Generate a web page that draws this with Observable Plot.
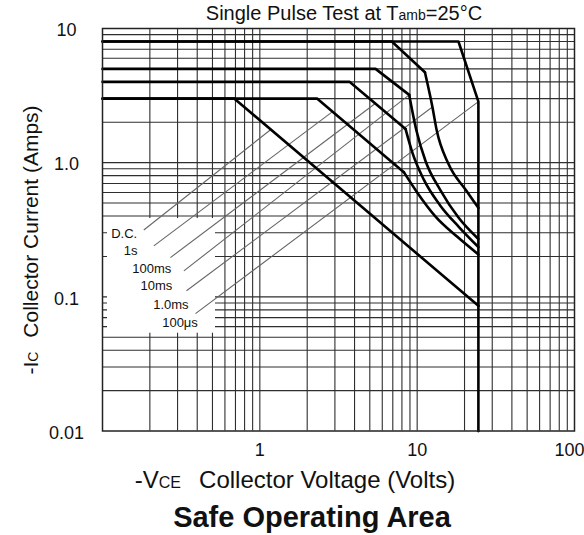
<!DOCTYPE html>
<html><head><meta charset="utf-8">
<script src="https://cdn.jsdelivr.net/npm/d3@7"></script>
<script src="https://cdn.jsdelivr.net/npm/@observablehq/plot@0.6"></script>
<style>body{margin:0;background:#fff;font-family:Arial,"Liberation Sans",sans-serif}</style>
</head><body><div id="chart"></div>
<script>
// grid and ticks
const xGridValues = [0.2,0.3,0.4,0.5,0.6,0.7,0.8,0.9,1,2,3,4,5,6,7,8,9,10,20,30,40,50,60,70,80,90];
const yGridValues = [0.02,0.03,0.04,0.05,0.06,0.07,0.08,0.09,0.1,0.2,0.3,0.4,0.5,0.6,0.7,0.8,0.9,1,2,3,4,5,6,7,8,9];
const xTickValues = [1,10,100];
const xTickLabels = ["1","10","100"];
const yTickValues = [0.01,0.1,1,10];
const yTickLabels = ["0.01","0.1","1.0","10"];

// safe operating area curves (V, A)
const seriesNames = ["100μs","1.0ms","10ms","100ms","1s","D.C."];
const v100us = [0.1, 18.3, 24.5, 24.5];
const i100us = [8, 8, 2.85, 0.01];
const v1ms = [0.1, 6.9, 11.2, 12.5, 13.3, 15.8, 20.5, 24.5];
const i1ms = [8, 8, 4.72, 2.6, 1.75, 0.98, 0.62, 0.46];
const v10ms = [0.1, 5.44, 8.9, 9.9, 11.3, 14.1, 18.3, 24.5];
const i10ms = [5, 5, 3.2, 1.73, 1.03, 0.62, 0.39, 0.27];
const v100ms = [0.1, 3.73, 8.44, 9.3, 11, 14, 18.5, 24.5];
const i100ms = [4, 4, 1.78, 1.2, 0.75, 0.48, 0.33, 0.235];
const v1s = [0.1, 2.32, 8.23, 10, 13, 18, 24.5];
const i1s = [3, 3, 0.85, 0.6, 0.4, 0.28, 0.207];
const vDC = [0.1, 0.69, 24.5];
const iDC = [3, 3, 0.0857];
// index where the curved (second breakdown) part begins
const kneeIndex = [3, 2, 2, 2, 2, 2];

// labels and leader lines
const labelV = [0.1136, 0.1366, 0.1545, 0.1744, 0.210, 0.2395];
const labelI = [0.294, 0.220, 0.161, 0.121, 0.0871, 0.0643];
const labelText = ["D.C.","1s","100ms","10ms","1.0ms","100μs"];
const leaderV1 = [0.183, 0.212, 0.270, 0.329, 0.342, 0.390];
const leaderI1 = [0.315, 0.240, 0.196, 0.156, 0.111, 0.075];
const leaderV2 = [1.17, 2.9, 5.44, 8.9, 12.5, 24.5];
const leaderI2 = [1.76, 2.4, 2.77, 3.2, 2.6, 2.85];

const seriesV = [v100us, v1ms, v10ms, v100ms, v1s, vDC];
const seriesI = [i100us, i1ms, i10ms, i100ms, i1s, iDC];
const headRows = seriesNames.flatMap((s, k) => seriesV[k].slice(0, kneeIndex[k] + 1).map((v, j) => ({series: s, v, i: seriesI[k][j]})));
const tailRows = seriesNames.flatMap((s, k) => seriesV[k].slice(kneeIndex[k]).map((v, j) => ({series: s, v, i: seriesI[k][j + kneeIndex[k]]})));
const labelRows = labelText.map((t, k) => ({t, v: labelV[k], i: labelI[k]}));
const leaderRows = labelText.map((t, k) => ({v1: leaderV1[k], i1: leaderI1[k], v2: leaderV2[k], i2: leaderI2[k]}));
const boxRows = [{x1: 0.1, x2: 0.5, y1: 0.05, y2: 0.4}];

const svg = Plot.plot({
  width: 584, height: 535,
  marginLeft: 102, marginRight: 10, marginTop: 28, marginBottom: 104.5,
  style: {fontFamily: "Arial, 'Liberation Sans', sans-serif", background: "white", color: "#111"},
  x: {type: "log", domain: [0.1, 100], axis: null},
  y: {type: "log", domain: [0.01, 10], axis: null},
  marks: [
    Plot.ruleX(xGridValues, {x: d => d, stroke: "#2e2e2e", strokeWidth: 1.1}),
    Plot.ruleY(yGridValues, {y: d => d, stroke: "#2e2e2e", strokeWidth: 1.1}),
    Plot.rect(boxRows, {x1: "x1", x2: "x2", y1: "y1", y2: "y2", fill: "white", insetLeft: 5, insetBottom: 4, insetTop: 2.5, insetRight: -3}),
    Plot.link(leaderRows, {x1: "v1", y1: "i1", x2: "v2", y2: "i2", stroke: "#666", strokeWidth: 1.1}),
    Plot.line(headRows, {x: "v", y: "i", z: "series", stroke: "#000", strokeWidth: 2.6, strokeLinejoin: "round"}),
    Plot.line(tailRows, {x: "v", y: "i", z: "series", stroke: "#000", strokeWidth: 2.6, curve: "monotone-x"}),
    Plot.text(labelRows, {x: "v", y: "i", text: "t", textAnchor: "start", fontSize: 13, fill: "#111"}),
    Plot.frame({stroke: "#222", strokeWidth: 1.5}),
    Plot.text(xTickValues.slice(0, 2), {x: d => d, text: (d, k) => xTickLabels[k], frameAnchor: "bottom", dy: 24.5, fontSize: 18, fill: "#111"}),
    Plot.text(xTickValues.slice(2), {x: d => d, text: (d, k) => xTickLabels[k + 2], frameAnchor: "bottom", dy: 24.5, dx: -5, fontSize: 18, fill: "#111"}),
    Plot.text(yTickValues, {y: d => d, text: (d, k) => yTickLabels[k], frameAnchor: "left", dx: -36, dy: 2, textAnchor: "middle", fontSize: 18, fill: "#111"})
  ]
});

const s = d3.select(svg);
const font = "Arial, 'Liberation Sans', sans-serif";
// top title
const t1 = s.append("text").attr("x", 344).attr("y", 20).attr("text-anchor", "middle")
  .attr("font-family", font).attr("font-size", 20).attr("fill", "#111");
t1.append("tspan").text("Single Pulse Test at T");
t1.append("tspan").attr("font-size", 14).text("amb");
t1.append("tspan").text("=25°C");
// y title
const t2 = s.append("text").attr("transform", "translate(38,240) rotate(-90)").attr("text-anchor", "middle")
  .attr("font-family", font).attr("font-size", 21).attr("fill", "#111");
t2.append("tspan").text("-I");
t2.append("tspan").attr("font-size", 14).text("C");
t2.append("tspan").attr("dx", 14).text("Collector Current (Amps)");
// x title
const t3 = s.append("text").attr("x", 295).attr("y", 488).attr("text-anchor", "middle")
  .attr("font-family", font).attr("font-size", 24).attr("fill", "#111");
t3.append("tspan").text("-V");
t3.append("tspan").attr("font-size", 16).text("CE");
t3.append("tspan").attr("dx", 18).text("Collector Voltage (Volts)");
// bottom title
s.append("text").attr("x", 312).attr("y", 527).attr("text-anchor", "middle")
  .attr("font-family", font).attr("font-size", 29).attr("font-weight", "bold").attr("fill", "#111")
  .text("Safe Operating Area");

document.getElementById("chart").appendChild(svg);
</script>
</body></html>
